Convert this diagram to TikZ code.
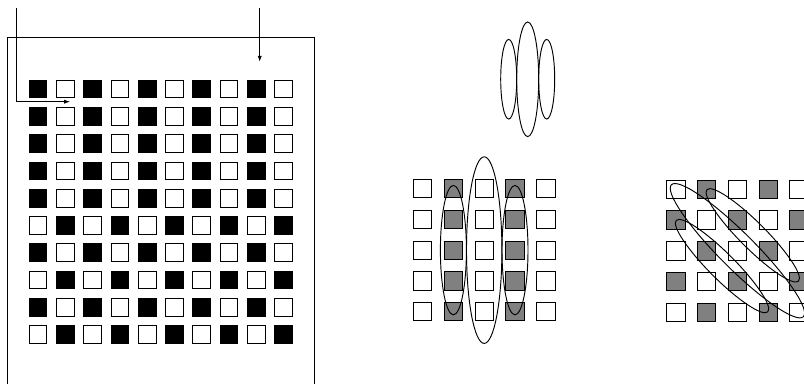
\documentclass[tikz,border=0pt]{standalone}
\usetikzlibrary{arrows.meta,calc}

\begin{document}
\begin{tikzpicture}[
    x=0.03cm, y=-0.03cm,
    sq/.style={draw=black, fill=#1, line width=0.6pt, inner sep=0pt, minimum size=0.53cm},
    sq/.default=white,
    msq/.style={sq=#1, minimum size=0.55cm},
    msq/.default=white,
    ring/.style={draw=black, line width=0.8pt},
    bigell/.style={x radius=0.531cm, y radius=2.799cm},
    smallell/.style={x radius=0.39cm, y radius=1.941cm},
    tinybig/.style={x radius=0.33cm, y radius=1.719cm},
    tinysmall/.style={x radius=0.24cm, y radius=1.194cm},
    arr/.style={-{Latex[length=5pt,width=3.5pt]}, line width=0.6pt}
]

    \useasboundingbox (0,0) rectangle (804,383);
    \clip (0,0) rectangle (804,383);

    % Coordinates
    \coordinate (frame_bl) at (7, 390);
    \coordinate (frame_tl) at (7, 37.7);
    \coordinate (frame_tr) at (314.3, 37.7);
    \coordinate (frame_br) at (314.3, 390);

    \coordinate (in_start)  at (16.7, 8);
    \coordinate (in_bend)   at (16.7, 101.7);
    \coordinate (in_end)    at (70, 101.7);
    \coordinate (out_start) at (259.7, 8);
    \coordinate (out_end)   at (259.7, 61.7);

    \coordinate (top_l) at (508.7, 79.2);
    \coordinate (top_m) at (527.7, 79.3);
    \coordinate (top_r) at (546.7, 79.2);

    % Frame (open at the bottom)
    \draw[line width=0.6pt] (frame_bl) -- (frame_tl) -- (frame_tr) -- (frame_br);

    % Arrows into the frame
    \draw[arr] (in_start) -- (in_bend) -- (in_end);
    \draw[arr] (out_start) -- (out_end);

    % Left 10x10 grid
    \foreach \r/\s in {0/0,1/0,2/0,3/0,4/0,5/1,6/0,7/1,8/0,9/1}
      \foreach \c in {0,...,9} {
        \pgfmathtruncatemacro\blk{mod(\c+\s,2)}
        \ifnum\blk=0 \def\sqcol{black}\else\def\sqcol{white}\fi
        \node[sq=\sqcol] (L-\r-\c) at ({37.85+27.3*\c}, {88.85+27.3*\r}) {};
      }

    % Middle 5x5 grid (grey columns)
    \foreach \r in {0,...,4}
      \foreach \c in {0,...,4} {
        \pgfmathtruncatemacro\blk{mod(\c,2)}
        \ifnum\blk=1 \def\sqcol{gray}\else\def\sqcol{white}\fi
        \node[msq=\sqcol] (M-\r-\c) at ({422.6+30.8*\c}, {188.6+30.75*\r}) {};
      }

    % Right 5x5 grid (grey checkerboard)
    \foreach \r in {0,...,4}
      \foreach \c in {0,...,4} {
        \pgfmathtruncatemacro\blk{mod(\c+\r,2)}
        \ifnum\blk=1 \def\sqcol{gray}\else\def\sqcol{white}\fi
        \node[msq=\sqcol] (R-\r-\c) at ({675.9+30.75*\c}, {189.2+30.75*\r}) {};
      }

    % Small ellipses on top
    \draw[ring] (top_l) ellipse[tinysmall];
    \draw[ring] (top_m) ellipse[tinybig];
    \draw[ring] (top_r) ellipse[tinysmall];

    % Vertical ellipses over the middle grid
    \draw[ring] (M-2-1.center) ellipse[smallell];
    \draw[ring] (M-2-2.center) ellipse[bigell];
    \draw[ring] (M-2-3.center) ellipse[smallell];

    % Diagonal ellipses over the right grid
    \draw[ring, rotate around={45:(R-2-2.center)}] (R-2-2.center) ellipse[bigell];
    \coordinate (diag_up) at ($(R-1-2.center)!0.5!(R-2-3.center)$);
    \coordinate (diag_lo) at ($(R-2-1.center)!0.5!(R-3-2.center)$);
    \draw[ring, rotate around={45:(diag_up)}] (diag_up) ellipse[smallell];
    \draw[ring, rotate around={45:(diag_lo)}] (diag_lo) ellipse[smallell];

\end{tikzpicture}
\end{document}
